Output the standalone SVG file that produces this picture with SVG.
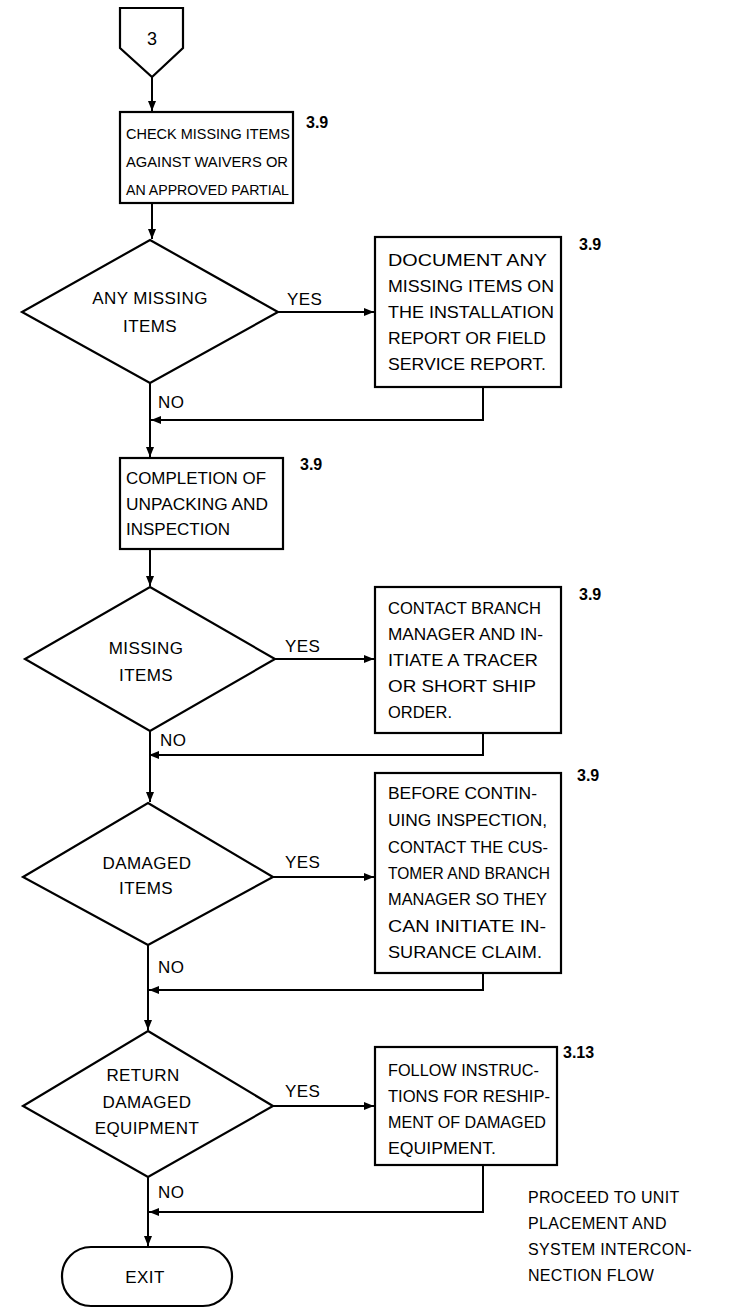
<svg xmlns="http://www.w3.org/2000/svg" width="743" height="1312" viewBox="0 0 743 1312">
<style>
.s{fill:#fff;stroke:#000;stroke-width:2.2}
.t{font-family:"Liberation Sans",Arial,sans-serif;font-size:17px;fill:#000;letter-spacing:0.4px}
.b{font-family:"Liberation Sans",Arial,sans-serif;font-size:17px;fill:#000}
.k{font-family:"Liberation Sans",Arial,sans-serif;font-size:15.5px;fill:#000}
.n{font-family:"Liberation Sans",Arial,sans-serif;font-size:16px;fill:#000;letter-spacing:0.3px}
.c{text-anchor:middle}
.r{font-family:"Liberation Sans",Arial,sans-serif;font-size:16px;font-weight:bold;fill:#000}
.l{fill:none;stroke:#000;stroke-width:2}
</style>
<defs>
<marker id="a" viewBox="0 0 10 8" refX="10" refY="4" markerWidth="10" markerHeight="8" markerUnits="userSpaceOnUse" orient="auto">
<path d="M0,0 L10,4 L0,8 Z" fill="#000"/>
</marker>
</defs>
<rect width="743" height="1312" fill="#fff"/>
<g id="connectors">
<path class="l" d="M152,77 V111" marker-end="url(#a)"/>
<path class="l" d="M152,203 V239" marker-end="url(#a)"/>
<path class="l" d="M278,312 H374" marker-end="url(#a)"/>
<path class="l" d="M150,383 V457" marker-end="url(#a)"/>
<path class="l" d="M483,387 V420 H151" marker-end="url(#a)"/>
<path class="l" d="M150,549 V586" marker-end="url(#a)"/>
<path class="l" d="M275,659 H374" marker-end="url(#a)"/>
<path class="l" d="M150,731 V802" marker-end="url(#a)"/>
<path class="l" d="M483,733 V755 H149" marker-end="url(#a)"/>
<path class="l" d="M273,877 H374" marker-end="url(#a)"/>
<path class="l" d="M148,945 V1030" marker-end="url(#a)"/>
<path class="l" d="M483,973 V990 H149" marker-end="url(#a)"/>
<path class="l" d="M273,1106 H374" marker-end="url(#a)"/>
<path class="l" d="M148,1177 V1246" marker-end="url(#a)"/>
<path class="l" d="M483,1165 V1212 H149" marker-end="url(#a)"/>
<text class="t" x="287" y="305">YES</text>
<text class="t" x="158" y="408">NO</text>
<text class="t" x="285" y="652">YES</text>
<text class="t" x="160" y="746">NO</text>
<text class="t" x="285" y="868">YES</text>
<text class="t" x="158" y="973">NO</text>
<text class="t" x="285" y="1097">YES</text>
<text class="t" x="158" y="1198">NO</text>
</g>
<g id="start">
<path class="s" d="M120,8 H183 V48 L152,77 L120,48 Z"/>
<text class="b c" x="152" y="45" style="font-size:18px">3</text>
</g>
<g id="check">
<rect class="s" x="120" y="112" width="173" height="91"/>
<text class="k" x="126" y="139" textLength="164" lengthAdjust="spacingAndGlyphs">CHECK MISSING ITEMS</text>
<text class="k" x="126" y="167" textLength="162" lengthAdjust="spacingAndGlyphs">AGAINST WAIVERS OR</text>
<text class="k" x="126" y="195" textLength="163" lengthAdjust="spacingAndGlyphs">AN APPROVED PARTIAL</text>
<text class="r" x="306" y="128">3.9</text>
</g>
<g id="anymissing">
<path class="s" d="M150,240 L278,312 L150,383 L22,312 Z"/>
<text class="t c" x="150" y="304">ANY MISSING</text>
<text class="t c" x="150" y="332">ITEMS</text>
</g>
<g id="document">
<rect class="s" x="375" y="237" width="186" height="150"/>
<text class="b" x="388" y="266" textLength="159" lengthAdjust="spacingAndGlyphs">DOCUMENT ANY</text>
<text class="b" x="388" y="292" textLength="166" lengthAdjust="spacingAndGlyphs">MISSING ITEMS ON</text>
<text class="b" x="388" y="318" textLength="166" lengthAdjust="spacingAndGlyphs">THE INSTALLATION</text>
<text class="b" x="388" y="344" textLength="158" lengthAdjust="spacingAndGlyphs">REPORT OR FIELD</text>
<text class="b" x="388" y="370" textLength="158" lengthAdjust="spacingAndGlyphs">SERVICE REPORT.</text>
<text class="r" x="579" y="250">3.9</text>
</g>
<g id="completion">
<rect class="s" x="120" y="458" width="163" height="91"/>
<text class="b" x="126" y="484" textLength="140" lengthAdjust="spacingAndGlyphs">COMPLETION OF</text>
<text class="b" x="126" y="510" textLength="142" lengthAdjust="spacingAndGlyphs">UNPACKING AND</text>
<text class="b" x="126" y="535" textLength="104" lengthAdjust="spacingAndGlyphs">INSPECTION</text>
<text class="r" x="300" y="470">3.9</text>
</g>
<g id="missing">
<path class="s" d="M150,587 L275,659 L150,731 L25,659 Z"/>
<text class="t c" x="146" y="654">MISSING</text>
<text class="t c" x="146" y="681">ITEMS</text>
</g>
<g id="contact">
<rect class="s" x="375" y="587" width="186" height="146"/>
<text class="b" x="388" y="614" textLength="153" lengthAdjust="spacingAndGlyphs">CONTACT BRANCH</text>
<text class="b" x="388" y="640" textLength="155" lengthAdjust="spacingAndGlyphs">MANAGER AND IN-</text>
<text class="b" x="388" y="666" textLength="150" lengthAdjust="spacingAndGlyphs">ITIATE A TRACER</text>
<text class="b" x="388" y="692" textLength="148" lengthAdjust="spacingAndGlyphs">OR SHORT SHIP</text>
<text class="b" x="388" y="718" textLength="64" lengthAdjust="spacingAndGlyphs">ORDER.</text>
<text class="r" x="579" y="600">3.9</text>
</g>
<g id="damaged">
<path class="s" d="M148,803 L273,877 L148,945 L23,877 Z"/>
<text class="t c" x="147" y="869">DAMAGED</text>
<text class="t c" x="146" y="894">ITEMS</text>
</g>
<g id="before">
<rect class="s" x="375" y="773" width="186" height="200"/>
<text class="b" x="388" y="799" textLength="149" lengthAdjust="spacingAndGlyphs">BEFORE CONTIN-</text>
<text class="b" x="388" y="826" textLength="159" lengthAdjust="spacingAndGlyphs">UING INSPECTION,</text>
<text class="b" x="388" y="853" textLength="160" lengthAdjust="spacingAndGlyphs">CONTACT THE CUS-</text>
<text class="b" x="388" y="879" textLength="162" lengthAdjust="spacingAndGlyphs">TOMER AND BRANCH</text>
<text class="b" x="388" y="905" textLength="159" lengthAdjust="spacingAndGlyphs">MANAGER SO THEY</text>
<text class="b" x="388" y="932" textLength="158" lengthAdjust="spacingAndGlyphs">CAN INITIATE IN-</text>
<text class="b" x="388" y="958" textLength="154" lengthAdjust="spacingAndGlyphs">SURANCE CLAIM.</text>
<text class="r" x="577" y="781">3.9</text>
</g>
<g id="return">
<path class="s" d="M148,1031 L273,1106 L148,1177 L23,1106 Z"/>
<text class="t c" x="143" y="1081">RETURN</text>
<text class="t c" x="147" y="1108">DAMAGED</text>
<text class="t c" x="147" y="1134">EQUIPMENT</text>
</g>
<g id="follow">
<rect class="s" x="375" y="1047" width="182" height="118"/>
<text class="b" x="388" y="1076" textLength="151" lengthAdjust="spacingAndGlyphs">FOLLOW INSTRUC-</text>
<text class="b" x="388" y="1102" textLength="162" lengthAdjust="spacingAndGlyphs">TIONS FOR RESHIP-</text>
<text class="b" x="388" y="1128" textLength="158" lengthAdjust="spacingAndGlyphs">MENT OF DAMAGED</text>
<text class="b" x="388" y="1154" textLength="108" lengthAdjust="spacingAndGlyphs">EQUIPMENT.</text>
<text class="r" x="563" y="1058">3.13</text>
</g>
<g id="exit">
<rect class="s" x="62" y="1247" width="170" height="59" rx="29" ry="29"/>
<text class="t c" x="145" y="1283">EXIT</text>
</g>
<g id="note">
<text class="n" x="528" y="1203">PROCEED TO UNIT</text>
<text class="n" x="528" y="1229">PLACEMENT AND</text>
<text class="n" x="528" y="1255">SYSTEM INTERCON-</text>
<text class="n" x="528" y="1281">NECTION FLOW</text>
</g>
</svg>
